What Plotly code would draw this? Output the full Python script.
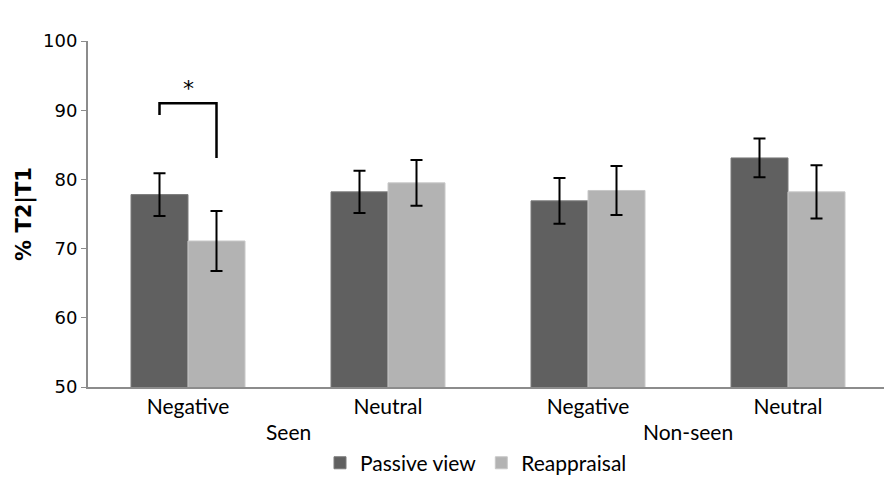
import plotly.graph_objects as go

# data
conditions = ["Negative", "Neutral", "Negative", "Neutral"]
groups = ["Seen", "Non-seen"]
passive = [77.8, 78.2, 76.9, 83.1]
passive_err = [3.1, 3.05, 3.3, 2.8]
reappraisal = [71.1, 79.5, 78.4, 78.2]
reappraisal_err = [4.35, 3.3, 3.55, 3.85]

# significance bracket (Seen / Negative)
bracket_x = [-0.1425, -0.1425, 0.1425, 0.1425]
bracket_y = [89.3, 91.0, 91.0, 83.1]

x = list(range(len(conditions)))

fig = go.Figure()

fig.add_trace(go.Bar(
    x=x, y=passive, name="Passive view",
    marker=dict(color="#606060", line=dict(color="#7a7a7a", width=1)),
    error_y=dict(type="data", array=passive_err, color="black", thickness=2, width=6),
))
fig.add_trace(go.Bar(
    x=x, y=reappraisal, name="Reappraisal",
    marker=dict(color="#b3b3b3", line=dict(color="#c8c8c8", width=1)),
    error_y=dict(type="data", array=reappraisal_err, color="black", thickness=2, width=6),
))

fig.add_trace(go.Scatter(
    x=bracket_x, y=bracket_y, mode="lines",
    line=dict(color="black", width=2.5),
    showlegend=False, hoverinfo="skip",
))

fig.add_annotation(x=0, y=91.0, text="*", showarrow=False, yanchor="bottom",
                   font=dict(family="DejaVu Sans", size=22, color="#000000"))

# group labels under the condition labels
for i, g in enumerate(groups):
    fig.add_annotation(x=2 * i + 0.5, y=-0.13, xref="x", yref="paper", text=g,
                       showarrow=False, yanchor="middle",
                       font=dict(family="Lato", size=21, color="black"))

fig.update_layout(
    width=892, height=488,
    margin=dict(l=80, r=12, t=33, b=101),
    plot_bgcolor="white", paper_bgcolor="white",
    barmode="group", bargap=0.43, bargroupgap=0,
    showlegend=True,
    legend=dict(orientation="h", x=0.485, xanchor="center", y=-0.22, yanchor="middle",
                font=dict(family="Lato", size=21, color="black"),
                itemwidth=30, traceorder="normal"),
    font=dict(family="DejaVu Sans", color="black"),
)

fig.update_xaxes(
    tickmode="array", tickvals=x, ticktext=conditions,
    range=[-0.5, 3.5], showline=True, linecolor="#8c8c8c", linewidth=2,
    ticks="", showgrid=False, zeroline=False,
    tickfont=dict(family="Lato", size=21, color="black"),
)
fig.update_yaxes(
    range=[50, 100], dtick=10, showline=True, linecolor="#8c8c8c", linewidth=2,
    ticks="outside", ticklen=5, tickcolor="#8c8c8c", showgrid=False, zeroline=False,
    tickfont=dict(family="DejaVu Sans", size=18, color="black"),
    title=dict(text="<b>% T2|T1</b>", font=dict(family="DejaVu Sans", size=21, color="black"),
               standoff=6),
)

fig.write_html("out.html")
